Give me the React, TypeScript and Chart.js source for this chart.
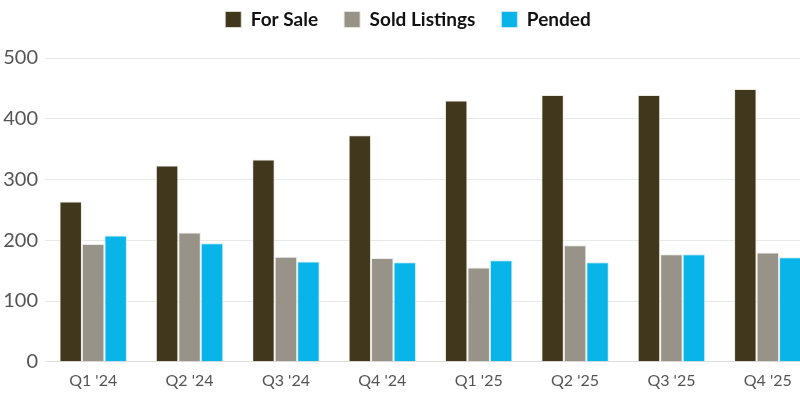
import React, { useEffect, useRef } from "react";
import { Chart, registerables } from "chart.js";

Chart.register(...registerables);

const categories = ["Q1 '24", "Q2 '24", "Q3 '24", "Q4 '24", "Q1 '25", "Q2 '25", "Q3 '25", "Q4 '25"];
const forSale = [264, 323, 333, 373, 430, 439, 439, 449];
const soldListings = [194, 213, 173, 171, 155, 192, 177, 180];
const pended = [208, 195, 165, 164, 167, 164, 177, 172];
const yTicks = [0, 100, 200, 300, 400, 500];

const FONT = "Lato, 'Noto Sans', sans-serif";

const legendSpacer = {
  id: "legendSpacer",
  afterInit(chart: any) {
    const lg = chart.legend;
    if (!lg || lg.__patched) return;
    const fit = lg.fit;
    lg.fit = function () {
      fit.call(this);
      this.height += 19;
    };
    lg.__patched = true;
  },
};

export default function App() {
  const ref = useRef<HTMLCanvasElement>(null);
  useEffect(() => {
    if (!ref.current) return;
    const chart = new Chart(ref.current, {
      type: "bar",
      data: {
        labels: categories,
        datasets: [
          { label: "For Sale", data: forSale, backgroundColor: "#40371d", borderColor: "rgba(235,230,220,0.8)", borderWidth: 1 },
          { label: "Sold Listings", data: soldListings, backgroundColor: "#979389", borderColor: "rgba(235,232,228,0.9)", borderWidth: 1 },
          { label: "Pended", data: pended, backgroundColor: "#09b4e8", borderColor: "rgba(200,235,250,0.9)", borderWidth: 1 },
        ],
      },
      options: {
        animation: false,
        responsive: true,
        maintainAspectRatio: false,
        layout: { padding: { top: -16, right: 4, bottom: 1, left: 0 } },
        datasets: { bar: { categoryPercentage: 0.7, barPercentage: 1.0 } },
        plugins: {
          tooltip: { enabled: false },
          legend: {
            position: "top",
            align: "center",
            labels: {
              boxWidth: 16,
              boxHeight: 16,
              padding: 26,
              color: "#111",
              font: { family: FONT, size: 19, weight: "bold" },
            },
          },
        },
        scales: {
          x: {
            grid: { display: false, drawTicks: false },
            border: { display: true, color: "#dddddd", width: 1 },
            ticks: { color: "#555", padding: 9, font: { family: FONT, size: 16 } },
          },
          y: {
            min: 0,
            max: 500,
            afterFit(scale: any) {
              scale.width = 45;
            },
            afterBuildTicks(scale: any) {
              scale.ticks = yTicks.map((v) => ({ value: v }));
            },
            grid: { color: "#e8e8e8", drawTicks: false },
            border: { display: false },
            ticks: { color: "#555", padding: 7, font: { family: FONT, size: 20 } },
          },
        },
      },
      plugins: [legendSpacer],
    });
    return () => chart.destroy();
  }, []);
  return (
    <div style={{ position: "fixed", left: 0, top: 0, width: 800, height: 400, overflow: "hidden", background: "#fff" }}>
      <div style={{ position: "relative", width: 820, height: 400 }}>
        <canvas ref={ref} />
      </div>
    </div>
  );
}
